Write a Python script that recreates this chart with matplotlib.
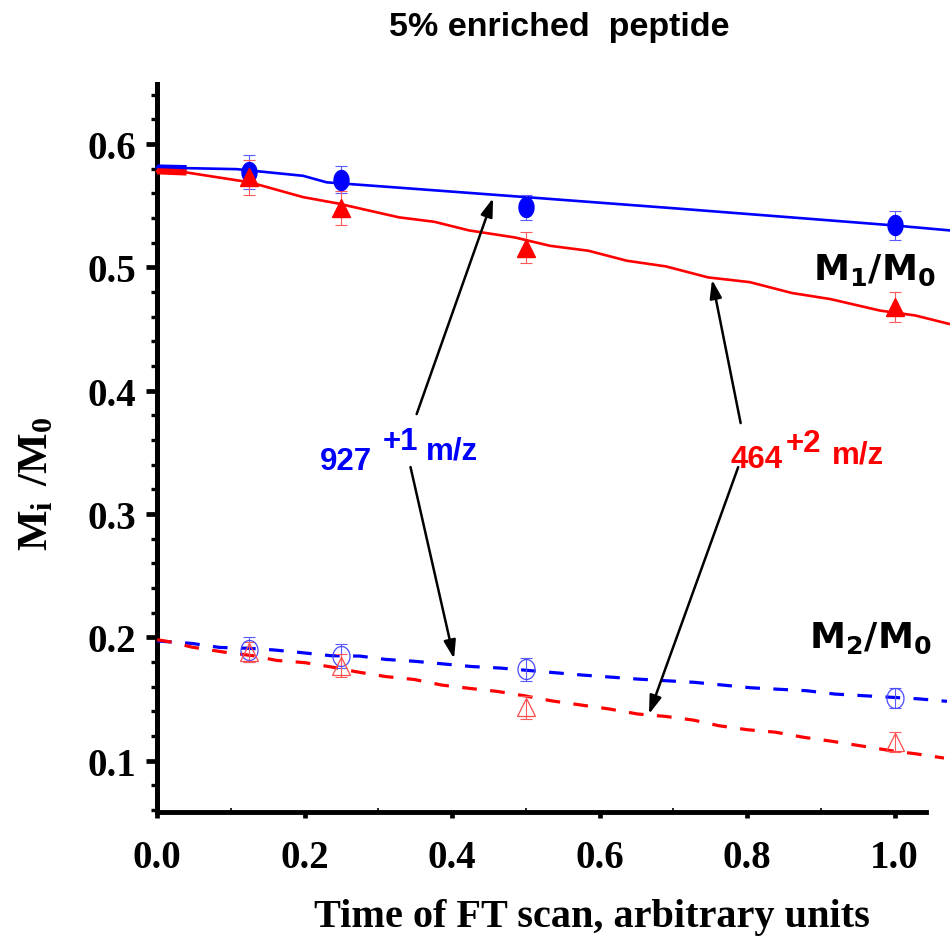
import numpy as np
import matplotlib
matplotlib.use('Agg')
import matplotlib.pyplot as plt
from matplotlib import font_manager
from matplotlib.ticker import MultipleLocator, FormatStrFormatter

# scan times where the isotope ratios were measured
scan_time = [0.125, 0.25, 0.5, 1.0]

# M1/M0 measured ratios (927 +1 and 464 +2 ions)
m1_927 = [0.5775, 0.571, 0.5487, 0.534]
m1_927_err = [0.014, 0.011, 0.0104, 0.0116]
m1_464 = [0.573, 0.548, 0.516, 0.468]
m1_464_err = [0.014, 0.014, 0.0128, 0.012]

# M2/M0 measured ratios
m2_927 = [0.190, 0.1845, 0.174, 0.1507]
m2_927_err = [0.010, 0.0098, 0.0092, 0.008]
m2_464 = [0.188, 0.177, 0.143, 0.115]
m2_464_err = [0.008, 0.009, 0.009, 0.008]

# model curves
fit_m1_927_t = [0, 0.04, 0.108, 0.198, 0.23, 0.343, 0.5, 0.7, 0.872, 1.0, 1.075]
fit_m1_927 = [0.581, 0.5805, 0.5797, 0.5743, 0.569, 0.564, 0.557, 0.548, 0.540, 0.534, 0.530]

fit_m1_464_t = [0, 0.04, 0.126, 0.198, 0.244, 0.328, 0.376, 0.423, 0.485, 0.533,
                0.585, 0.637, 0.690, 0.747, 0.804, 0.861, 0.913, 0.98, 1.028, 1.075]
fit_m1_464 = [0.578, 0.577, 0.569, 0.557, 0.552, 0.5406, 0.537, 0.530, 0.5243, 0.5175,
              0.5135, 0.5054, 0.5008, 0.4919, 0.488, 0.4792, 0.4743, 0.465, 0.461, 0.454]

fit_m2_927_t = [0, 0.047, 0.085, 0.125, 0.158, 0.196, 0.236, 0.275, 0.31, 0.349, 0.427,
                0.465, 0.534, 0.577, 0.653, 0.729, 0.805, 0.881, 0.919, 0.957, 1.033, 1.071]
fit_m2_927 = [0.197, 0.195, 0.1917, 0.191, 0.1897, 0.1875, 0.185, 0.1847, 0.182, 0.1805, 0.1762,
              0.175, 0.1715, 0.1693, 0.166, 0.1634, 0.159, 0.1566, 0.1539, 0.1526, 0.150, 0.148]

fit_m2_464_t = [0, 0.02, 0.047, 0.09, 0.13, 0.162, 0.2, 0.24, 0.27, 0.31, 0.349, 0.386,
                0.424, 0.462, 0.5, 0.536, 0.575, 0.613, 0.652, 0.689, 0.727, 0.762, 0.8,
                0.838, 0.877, 0.915, 0.953, 0.995, 1.029, 1.067]
fit_m2_464 = [0.198, 0.196, 0.192, 0.188, 0.185, 0.1812, 0.1794, 0.1755, 0.172, 0.1681, 0.1657,
              0.1612, 0.1585, 0.156, 0.1523, 0.1483, 0.145, 0.1418, 0.1377, 0.1358, 0.1328,
              0.1282, 0.125, 0.123, 0.1188, 0.1156, 0.112, 0.108, 0.1054, 0.102]

BLUE = '#0000ff'
RED = '#ff0000'

installed = {f.name for f in font_manager.fontManager.ttflist}
narrow = None
for name in ['Liberation Sans Narrow', 'Arial Narrow']:
    if name in installed:
        narrow = name
        break
if narrow:
    ion_font = dict(family=narrow, fontsize=24)
else:
    ion_font = dict(family='Liberation Sans', fontsize=22.5)

plt.rcParams['font.family'] = ['Liberation Serif', 'DejaVu Serif']
plt.rcParams['font.weight'] = 'bold'
plt.rcParams['mathtext.fontset'] = 'custom'
plt.rcParams['mathtext.bf'] = 'Liberation Serif:bold'
plt.rcParams['mathtext.rm'] = 'Liberation Serif:bold'
plt.rcParams['mathtext.sf'] = 'DejaVu Sans:bold'

fig = plt.figure(figsize=(9.5, 9.37), dpi=100)
ax = fig.add_axes([0.1653, 0.1323, 0.8095, 0.7769])

# slightly tall ellipses used for the circle markers
th = np.linspace(0, 2 * np.pi, 60)
ellipse = np.column_stack([0.75 * np.cos(th), np.sin(th)])
ellipse_open = np.column_stack([0.85 * np.cos(th), np.sin(th)])

# model curves
ax.plot(fit_m1_927_t, fit_m1_927, color=BLUE, lw=1.9, clip_on=False, zorder=3)
ax.plot(fit_m1_464_t, fit_m1_464, color=RED, lw=1.9, clip_on=False, zorder=3)
ax.plot(fit_m1_927_t[:2], fit_m1_927[:2], color=BLUE, lw=4.5, solid_capstyle='butt', zorder=3)
ax.plot(fit_m1_464_t[:2], fit_m1_464[:2], color=RED, lw=4.5, solid_capstyle='butt', zorder=3)

dash = (0, (4.6, 4.2))
ax.plot(fit_m2_927_t, fit_m2_927, color=BLUE, lw=2.3, ls=dash, clip_on=False, zorder=3)
ax.plot(fit_m2_464_t, fit_m2_464, color=RED, lw=2.3, ls=dash, clip_on=False, zorder=3)

# measured points with error bars
eb = dict(fmt='none', elinewidth=0.8, capsize=4, capthick=0.8, zorder=4)
ax.errorbar(scan_time, m1_927, yerr=m1_927_err, ecolor='#5a5aff', **eb)
ax.errorbar(scan_time, m1_464, yerr=m1_464_err, ecolor='#ff5a5a', **eb)
ax.errorbar(scan_time, m2_927, yerr=m2_927_err, ecolor='#5a5aff', **eb)
ax.errorbar(scan_time, m2_464, yerr=m2_464_err, ecolor='#ff5a5a', **eb)

ax.plot(scan_time, m1_927, ls='none', marker=ellipse, ms=14.4, color=BLUE, zorder=5)
ax.plot(scan_time, m1_464, ls='none', marker='^', ms=12.5, color=RED, zorder=5)
ax.plot(scan_time, m2_927, ls='none', marker=ellipse_open, ms=14.4, mfc='none',
        mec='#4a4aff', mew=0.9, zorder=5)
ax.plot(scan_time, m2_464, ls='none', marker='^', ms=13.5, mfc='none',
        mec='#ff4a4a', mew=0.9, zorder=5)

# arrows from the ion labels to their curves
arrow = dict(arrowstyle='-|>,head_length=0.55,head_width=0.18', color='black',
             lw=1.8, mutation_scale=20, shrinkA=0, shrinkB=0)
ax.annotate('', xy=(0.4556, 0.5562), xytext=(0.352, 0.381), arrowprops=arrow)
ax.annotate('', xy=(0.4027, 0.1825), xytext=(0.3437, 0.338), arrowprops=arrow)
ax.annotate('', xy=(0.7525, 0.490), xytext=(0.7913, 0.3737), arrowprops=arrow)
ax.annotate('', xy=(0.667, 0.1376), xytext=(0.788, 0.338), arrowprops=arrow)

lab = dict(weight='bold', va='baseline', ha='left', **ion_font)
ax.text(0.2202, 0.3364, '927', color=BLUE, **lab)
ax.text(0.3064, 0.3526, '+1', color=BLUE, **lab)
ax.text(0.3647, 0.3453, 'm/z', color=BLUE, **lab)
ax.text(0.7779, 0.338, '464', color=RED, **lab)
ax.text(0.853, 0.3513, '+2', color=RED, **lab)
ax.text(0.9146, 0.342, 'm/z', color=RED, **lab)

ax.text(0.8895, 0.4905, r'$\mathsf{M_1/M_0}$', fontsize=26, ha='left', va='baseline')
ax.text(0.8835, 0.192, r'$\mathsf{M_2/M_0}$', fontsize=26, ha='left', va='baseline')

# axes
ax.set_xlim(0, 1.0427)
ax.set_ylim(0.0582, 0.6487)
ax.spines['top'].set_visible(False)
ax.spines['right'].set_visible(False)
ax.spines['left'].set_linewidth(3.6)
ax.spines['bottom'].set_linewidth(3.5)

ax.xaxis.set_major_locator(MultipleLocator(0.2))
ax.xaxis.set_minor_locator(MultipleLocator(0.1))
ax.yaxis.set_major_locator(MultipleLocator(0.1))
ax.yaxis.set_minor_locator(MultipleLocator(0.02))
ax.xaxis.set_major_formatter(FormatStrFormatter('%.1f'))
ax.yaxis.set_major_formatter(FormatStrFormatter('%.1f'))

ax.tick_params(axis='y', which='major', direction='out', length=8, width=3.4, pad=7, labelsize=28)
ax.tick_params(axis='y', which='minor', direction='out', length=4.3, width=2.4)
ax.tick_params(axis='x', which='major', direction='out', length=4.3, width=3.4, pad=15, labelsize=28)
ax.tick_params(axis='x', which='minor', direction='in', length=3, width=1.2)

ax.set_xlabel('Time of FT scan, arbitrary units', fontsize=29, fontweight='bold')
ax.xaxis.set_label_coords(0.566, -0.118)
ax.set_ylabel(r'$\mathbf{M_i\ /M_0}$', fontsize=31)
ax.yaxis.set_label_coords(-0.131, 0.452)

fig.text(559 / 950, 1 - 36 / 937, '5% enriched  peptide', ha='center', va='baseline',
         family='Liberation Sans', fontweight='bold', fontsize=24.5)

fig.savefig('out.png', dpi=100)
